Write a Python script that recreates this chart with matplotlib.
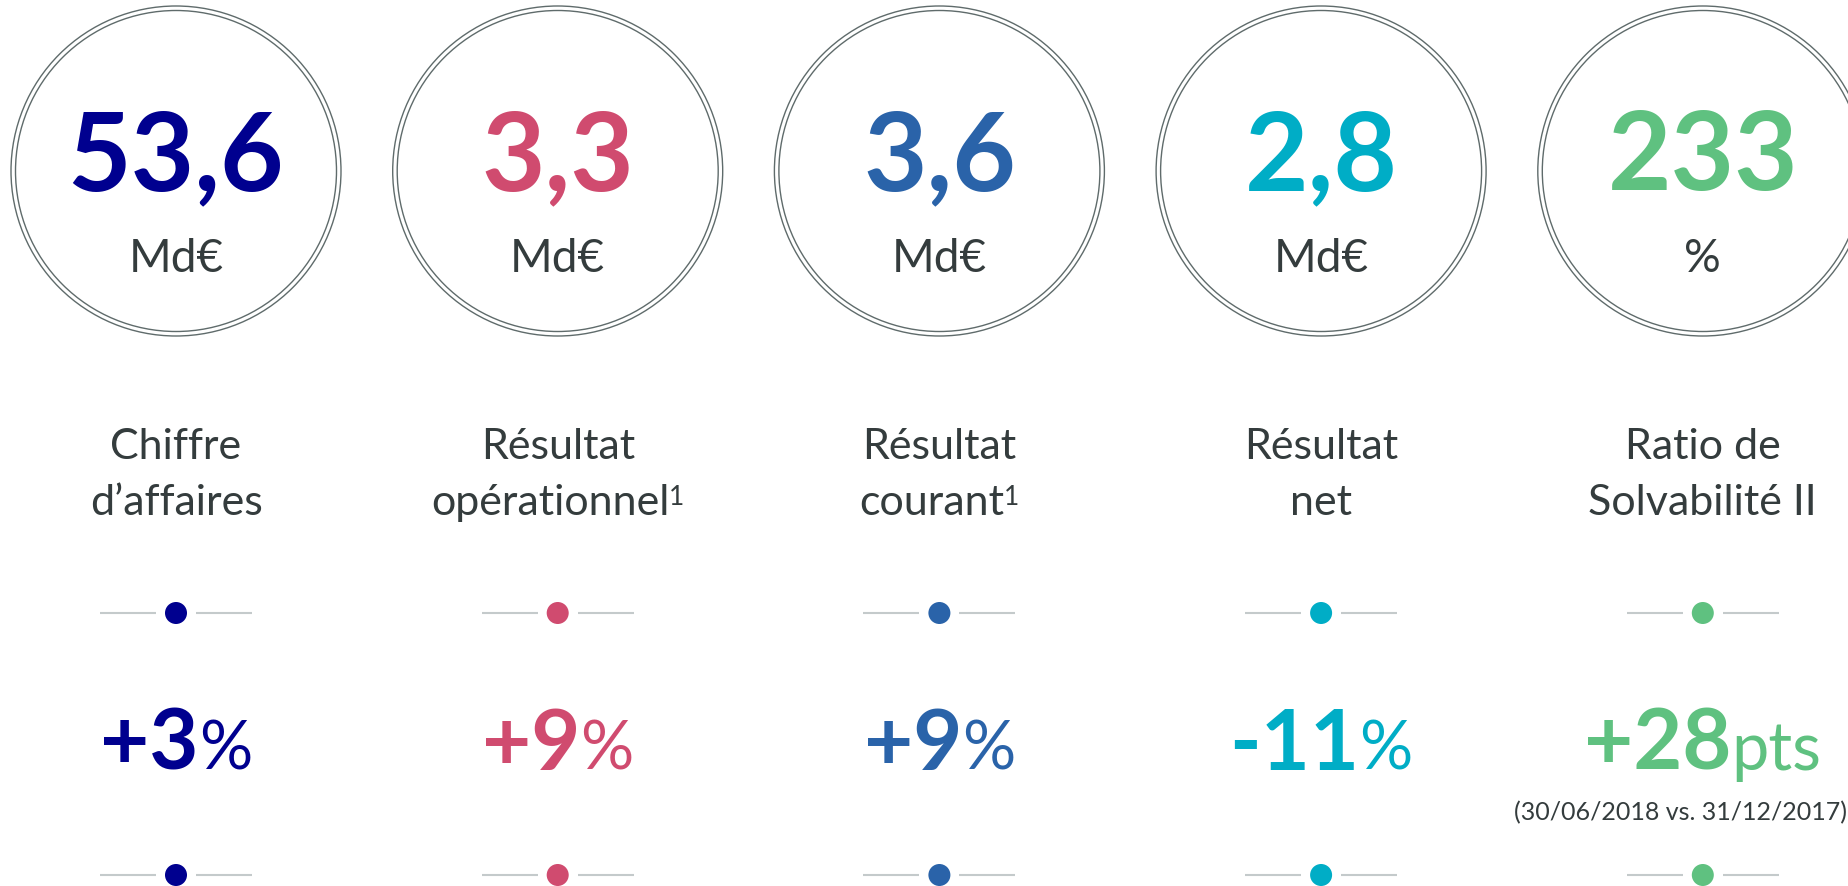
import matplotlib
matplotlib.use("Agg")
import matplotlib.pyplot as plt
from matplotlib.patches import Circle

# ---- data ----
values = ["53,6", "3,3", "3,6", "2,8", "233"]
units = ["Md€", "Md€", "Md€", "Md€", "%"]
label_line1 = ["Chiffre", "Résultat", "Résultat", "Résultat", "Ratio de"]
label_line2 = ["d’affaires", "opérationnel", "courant", "net", "Solvabilité II"]
footnotes = ["", "1", "1", "", ""]
changes = ["+3", "+9", "+9", "-11", "+28"]
change_units = ["%", "%", "%", "%", "pts"]
notes = ["", "", "", "", "(30/06/2018 vs. 31/12/2017)"]
colors = ["#00008f", "#d04b6f", "#2a63a9", "#00adc6", "#5fc180"]

FONT = "Lato"
TEXT = "#343c3d"
RING = "#5f6b6b"
LINE = "#c4cacb"

W, H = 1849, 886
fig = plt.figure(figsize=(W / 100, H / 100), dpi=100)
ax = fig.add_axes([0, 0, 1, 1])
ax.set_xlim(0, W)
ax.set_ylim(H, 0)
ax.axis("off")
renderer = fig.canvas.get_renderer()

x0, dx = 176, 381.7
cy, R = 171, 165


def seq_text(cx, y, pieces):
    """pieces: (string, size, weight, color, dy) placed side by side, centered at cx, baseline y"""
    objs = []
    widths = []
    for s, size, weight, color, dy in pieces:
        t = ax.text(0, y + dy, s, fontsize=size, fontweight=weight, color=color,
                    family=FONT, ha="left", va="baseline")
        objs.append(t)
        widths.append(t.get_window_extent(renderer).width)
    total = sum(widths)
    x = cx - total / 2
    for t, w in zip(objs, widths):
        t.set_x(x)
        x += w


def dot_line(cx, y, color):
    ax.plot([cx - 76, cx - 20], [y, y], color=LINE, lw=1.5, solid_capstyle="butt")
    ax.plot([cx + 20, cx + 76], [y, y], color=LINE, lw=1.5, solid_capstyle="butt")
    ax.add_patch(Circle((cx, y), 11, facecolor=color, edgecolor="none"))


for i in range(len(values)):
    cx = x0 + i * dx
    c = colors[i]
    ax.add_patch(Circle((cx, cy), R, facecolor="none", edgecolor=RING, lw=1.0))
    ax.add_patch(Circle((cx, cy), R - 4.5, facecolor="none", edgecolor=RING, lw=1.0))
    ax.text(cx, 190, values[i], fontsize=79, fontweight="bold", color=c,
            family=FONT, ha="center", va="baseline")
    ax.text(cx, 272, units[i], fontsize=33, color=TEXT, family=FONT,
            ha="center", va="baseline")
    seq_text(cx, 459, [(label_line1[i], 31, "normal", TEXT, 0)])
    p2 = [(label_line2[i], 31, "normal", TEXT, 0)]
    if footnotes[i]:
        p2.append((footnotes[i], 19, "normal", TEXT, -10))
    seq_text(cx, 515, p2)
    dot_line(cx, 613, c)
    seq_text(cx, 770, [(changes[i], 61, "bold", c, 0),
                       (change_units[i], 48, "normal", c, 0)])
    if notes[i]:
        ax.text(W - 2, 820, notes[i], fontsize=18, color=TEXT, family=FONT,
                ha="right", va="baseline")
    dot_line(cx, 875, c)

fig.savefig("out.png", dpi=100, facecolor="white")
